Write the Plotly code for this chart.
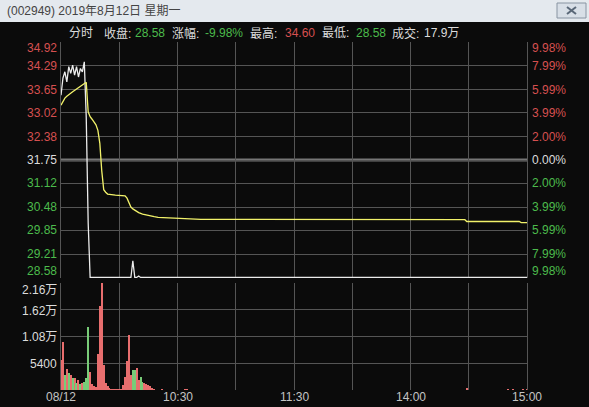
import plotly.graph_objects as go

W, H = 589, 407

# price scale (left) and percent scale (right), top to bottom
price_levels = [34.92, 34.29, 33.65, 33.02, 32.38, 31.75, 31.12, 30.48, 29.85, 29.21, 28.58]
pct_labels = ["9.98%", "7.99%", "5.99%", "3.99%", "2.00%", "0.00%",
              "2.00%", "3.99%", "5.99%", "7.99%", "9.98%"]
prev_close = 31.75

# minute index from 9:30 (lunch break removed)
grid_minutes = [0, 30, 60, 90, 120, 150, 180, 210, 240]
time_ticks = [0, 60, 120, 180, 240]
time_labels = ["08/12", "10:30", "11:30", "14:00", "15:00"]

# last price
price_t = [0, 1, 2, 3, 4, 5, 6, 7, 8, 9, 10, 11, 12, 13, 14, 15,
           36, 37, 38, 39, 40, 41, 240]
price_v = [33.50, 33.96, 34.13, 33.86, 34.27, 34.09, 34.31, 34.04, 34.27, 33.99,
           34.22, 34.13, 34.40, 32.90, 30.05, 28.58,
           28.58, 29.03, 28.58, 28.58, 28.62, 28.58, 28.58]

# average price
avg_t = [0, 1, 2, 3, 4, 5, 6, 7, 8, 9, 10, 11, 12, 13, 14, 15, 16, 17, 18, 19,
         20, 21, 22, 23, 24, 28, 32, 33, 34, 35, 36, 37, 38, 39, 40, 42, 44, 46,
         48, 50, 63, 72, 208, 209, 236, 237, 240]
avg_v = [33.23, 33.35, 33.42, 33.47, 33.52, 33.55, 33.59, 33.63, 33.67, 33.70,
         33.74, 33.78, 33.82, 33.85, 33.05, 32.92, 32.85, 32.78, 32.70, 32.55,
         32.20, 31.45, 30.95, 30.88, 30.83, 30.80, 30.79, 30.78, 30.72, 30.58,
         30.48, 30.43, 30.39, 30.36, 30.33, 30.29, 30.26, 30.24, 30.22, 30.20,
         30.18, 30.15, 30.14, 30.09, 30.09, 30.06, 30.06]

# volume per minute, 1 = up (red), 0 = down (green)
vol_t = list(range(0, 49)) + [52, 64, 65, 209, 230, 233, 238, 240]
vol_v = [6060, 9750, 3000, 4300, 3500, 3000, 2500, 2400, 1400, 2000,
         1300, 1500, 1600, 2400, 12780, 3700, 1200, 800, 600, 7270,
         16960, 21600, 5050, 1480, 800, 540, 300, 270, 250, 250,
         200, 150, 1000, 2690, 5920, 11100, 3030, 4170, 4170, 4510,
         2150, 2690, 1680, 1480, 1210, 1000, 800, 540, 270,
         200, 150, 150, 400, 150, 150, 200, 250]
vol_up = [1, 1, 0, 1, 0, 1, 0, 1, 0, 1,
          0, 1, 0, 0, 0, 1, 1, 1, 1, 1,
          1, 1, 1, 1, 1, 1, 1, 1, 1, 1,
          1, 1, 1, 1, 1, 1, 1, 0, 0, 1,
          1, 0, 0, 1, 1, 1, 1, 1, 1,
          1, 1, 1, 1, 1, 1, 1, 1]

vol_levels = [21600, 16200, 10800, 5400]
vol_labels = ["2.16万", "1.62万", "1.08万", "5400"]

header = [("分时", 67, "w"), ("收盘:", 102, "w"), ("28.58", 133, "g"),
          ("涨幅:", 170, "w"), ("-9.98%", 203, "g"), ("最高:", 248, "w"),
          ("34.60", 283, "r"), ("最低:", 320, "w"), ("28.58", 354, "g"),
          ("成交:", 390, "w"), ("17.9万", 422, "w")]

BG = "#0b0b0b"
GRID = "#555555"
RED = "#d65050"
GREEN = "#4cbb4c"
WHITE = "#dcdcdc"
FONT = "Liberation Sans, Noto Sans CJK SC"
cmap = {"w": WHITE, "r": RED, "g": GREEN}


def px(x):
    return x / W


def py(y):
    return 1 - y / H


fig = go.Figure()
fig.add_trace(go.Scatter(x=price_t, y=price_v, mode="lines",
                         line=dict(color="#ececec", width=1.3), xaxis="x", yaxis="y"))
fig.add_trace(go.Scatter(x=avg_t, y=avg_v, mode="lines",
                         line=dict(color="#f2f26a", width=1.3), xaxis="x", yaxis="y"))
fig.add_trace(go.Bar(x=vol_t, y=vol_v, width=0.6,
                     marker=dict(color=["#e86e6e" if u else "#78cc78" for u in vol_up],
                                 line=dict(width=0)),
                     xaxis="x2", yaxis="y2"))

xdom = [px(61), px(527)]
axis_common = dict(showticklabels=False, showgrid=True, gridcolor=GRID, gridwidth=1,
                   zeroline=False, fixedrange=True, ticks="")

shapes = [
    dict(type="line", xref="x", yref="y", x0=0, x1=240, y0=prev_close, y1=prev_close,
         line=dict(color="#767676", width=3), layer="below"),
    dict(type="rect", xref="paper", yref="paper", x0=0, x1=1, y0=py(22), y1=1,
         fillcolor="#e4e9ee", line=dict(width=0)),
    dict(type="rect", xref="paper", yref="paper", x0=px(557), x1=px(586), y0=py(18), y1=py(3),
         fillcolor="#d8dfe7", line=dict(color="#8894a2", width=1)),
    dict(type="line", xref="paper", yref="paper", x0=px(567), x1=px(576), y0=py(7), y1=py(14),
         line=dict(color="#5a6878", width=2)),
    dict(type="line", xref="paper", yref="paper", x0=px(567), x1=px(576), y0=py(14), y1=py(7),
         line=dict(color="#5a6878", width=2)),
]

ann = []
ann.append(dict(text="(002949) 2019年8月12日 星期一", x=px(5), y=py(11), xref="paper",
                yref="paper", xanchor="left", yanchor="middle", showarrow=False,
                font=dict(family=FONT, size=12, color="#444444")))
for txt, x, c in header:
    ann.append(dict(text=txt, x=px(x), y=py(33), xref="paper", yref="paper",
                    xanchor="left", yanchor="middle", showarrow=False,
                    font=dict(family=FONT, size=12, color=cmap[c])))

n = len(price_levels)
for i, (p, pct) in enumerate(zip(price_levels, pct_labels)):
    if p > prev_close:
        col = RED
    elif p < prev_close:
        col = GREEN
    else:
        col = WHITE
    shift = -5.5 if i == 0 else (6.5 if i == n - 1 else 0)
    ann.append(dict(text=f"{p:.2f}", x=px(59), y=p, xref="paper", yref="y",
                    xanchor="right", yanchor="middle", yshift=shift, showarrow=False,
                    font=dict(family=FONT, size=12, color=col)))
    ann.append(dict(text=pct, x=px(530), y=p, xref="paper", yref="y",
                    xanchor="left", yanchor="middle", yshift=shift, showarrow=False,
                    font=dict(family=FONT, size=12, color=col)))

for i, (v, lab) in enumerate(zip(vol_levels, vol_labels)):
    ann.append(dict(text=lab, x=px(59), y=v, xref="paper", yref="y2",
                    xanchor="right", yanchor="middle", yshift=-7 if i == 0 else -1,
                    showarrow=False, font=dict(family=FONT, size=12, color=WHITE)))

for t, lab in zip(time_ticks, time_labels):
    ann.append(dict(text=lab, x=t, y=py(397), xref="x2", yref="paper",
                    xanchor="center", yanchor="middle", showarrow=False,
                    font=dict(family=FONT, size=12, color="#c4c4c4")))

fig.update_layout(
    width=W, height=H,
    margin=dict(l=0, r=0, t=0, b=0),
    paper_bgcolor=BG, plot_bgcolor=BG,
    showlegend=False, hovermode=False, bargap=0,
    xaxis=dict(domain=xdom, range=[0, 240], tickvals=grid_minutes, anchor="y",
               showline=False, **axis_common),
    yaxis=dict(domain=[py(278.2), py(41.8)], range=[28.56, 34.94], tickvals=price_levels,
               anchor="x", showline=True, mirror=True, linecolor=GRID, **axis_common),
    xaxis2=dict(domain=xdom, range=[0, 240], tickvals=grid_minutes, anchor="y2",
                showline=False, **axis_common),
    yaxis2=dict(domain=[py(390), py(282.7)], range=[0, 21600],
                tickvals=[0, 5400, 10800, 16200, 21600], anchor="x2",
                showline=True, mirror=True, linecolor=GRID, **axis_common),
    shapes=shapes,
    annotations=ann,
)

fig.write_html("out.html", config={"displayModeBar": False},
               post_script="document.body.style.margin='0px';"
                           "document.body.style.overflow='hidden';")
